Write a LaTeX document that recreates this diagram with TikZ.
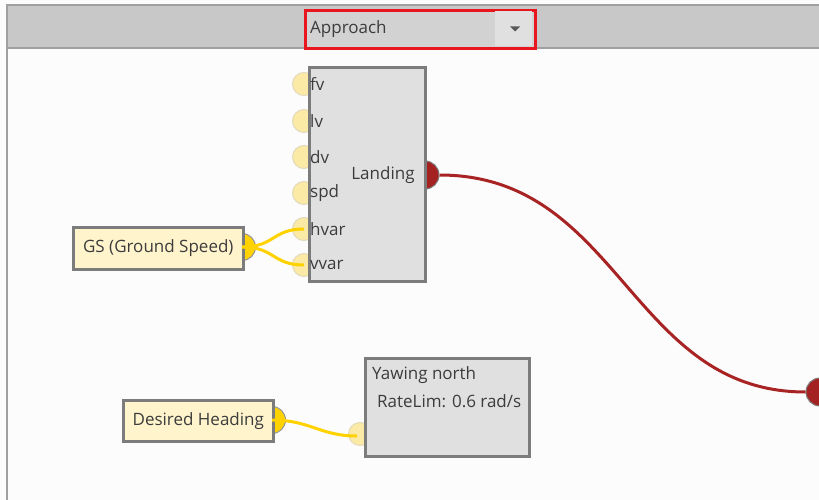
\documentclass[tikz,border=0pt]{standalone}
\usepackage{fontspec}
\setmainfont{Open Sans}
\definecolor{bg}{HTML}{FCFCFC}
\definecolor{hdr}{HTML}{C8C8C8}
\definecolor{ddfill}{HTML}{D2D2D2}
\definecolor{frameline}{HTML}{A0A0A0}
\definecolor{boxgrey}{HTML}{E0E0E0}
\definecolor{boxline}{HTML}{7C7C7C}
\definecolor{srcfill}{HTML}{FFF4CC}
\definecolor{inport}{HTML}{FBE9A6}
\definecolor{inportline}{HTML}{E2DAB8}
\definecolor{ygold}{HTML}{FFD200}
\definecolor{rport}{HTML}{A52222}
\definecolor{rwire}{HTML}{A82424}
\definecolor{txt}{HTML}{3C3C3C}
\definecolor{ddred}{HTML}{E8161E}
\begin{document}
\begin{tikzpicture}[x=1pt,y=-1pt,
  font=\fontsize{17}{19}\selectfont, text=txt,
  blockbox/.style={draw=boxline, line width=2.6pt, fill=boxgrey, inner sep=0pt, anchor=north west},
  srcbox/.style={draw=boxline, line width=2.6pt, fill=srcfill, inner sep=0pt, anchor=north west},
  inportc/.style={circle, fill=inport, draw=inportline, line width=1pt, minimum size=23pt, inner sep=0pt},
  ysrcport/.style={circle, fill=ygold, draw=boxline!80, line width=1pt, minimum size=27pt, inner sep=0pt},
  rportc/.style={circle, fill=rport, draw=boxline, line width=1pt, minimum size=28pt, inner sep=0pt},
  ywire/.style={draw=ygold, line width=3pt},
  redwire/.style={draw=rwire, line width=3pt},
  plabel/.style={anchor=west, inner sep=0pt}
]
\useasboundingbox (0,0) rectangle (819,500);
\clip (0,0) rectangle (819,500);
\fill[bg] (0,0) rectangle (819,500);
% header
\fill[hdr] (7,5) rectangle (819,48);
\draw[frameline, line width=2pt] (7,500) -- (7,5) -- (819,5);
\draw[frameline, line width=1.2pt] (7,48) -- (819,48);
% dropdown
\node[draw=ddred, line width=3pt, fill=ddfill, minimum width=230pt, minimum height=38pt, inner sep=0pt, anchor=north west] (dd) at (303.5,9.5) {};
\fill[white!88!black] (495,11) rectangle (532,46);
\node[plabel] (ddtext) at (310,29) {Approach};
\fill[black!65] (510,26.5) -- (520,26.5) -- (515,31.5) -- cycle;

% Landing ports
\node[inportc] (fv) at (304,84) {};
\node[inportc] (lv) at (304,121) {};
\node[inportc] (dv) at (304,157) {};
\node[inportc] (spd) at (304,193) {};
\node[inportc] (hvar) at (304,229) {};
\node[inportc] (vvar) at (304,265) {};
\node[rportc] (lout) at (425,175) {};
\node[rportc] (rin) at (820,392) {};

% GS source
\node[ysrcport] (gsout) at (242,247) {};
\node[srcbox, minimum width=170pt, minimum height=42pt] (gs) at (72,226) {};
\node (gstext) at (gs.center) {GS (Ground Speed)};

% wires GS
\draw[ywire] (gsout.center) .. controls (275,247) and (272,229) .. (hvar.center);
\draw[ywire] (gsout.center) .. controls (275,247) and (272,265) .. (vvar.center);

% Landing box
\node[blockbox, minimum width=116pt, minimum height=214pt] (landing) at (308,66) {};
\node[plabel] (tfv) at (310,84) {fv};
\node[plabel] (tlv) at (310,121) {lv};
\node[plabel] (tdv) at (310,157) {dv};
\node[plabel] (tspd) at (310,193) {spd};
\node[plabel] (thvar) at (310,229) {hvar};
\node[plabel] (tvvar) at (310,265) {vvar};
\node (tlanding) at (383,175) {Landing};

% red wire
\draw[redwire] (lout.east) .. controls (620,175) and (630,392) .. (rin.west);

% Desired Heading
\node[inportc] (yin) at (360,434) {};
\node[ysrcport] (dhout) at (272,420) {};
\node[srcbox, minimum width=150pt, minimum height=41pt] (dh) at (122,399) {};
\node (dhtext) at (dh.center) {Desired Heading};
\draw[ywire] (dhout.center) .. controls (310,420) and (320,436) .. (357,436);

% Yawing box
\node[blockbox, minimum width=164pt, minimum height=98pt] (yaw) at (364,357) {};
\node[plabel] (ty1) at (372,375) {Yawing north};
\node[plabel] (ty2) at (377,401) {RateLim: 0.6 rad/s};
\end{tikzpicture}
\end{document}
